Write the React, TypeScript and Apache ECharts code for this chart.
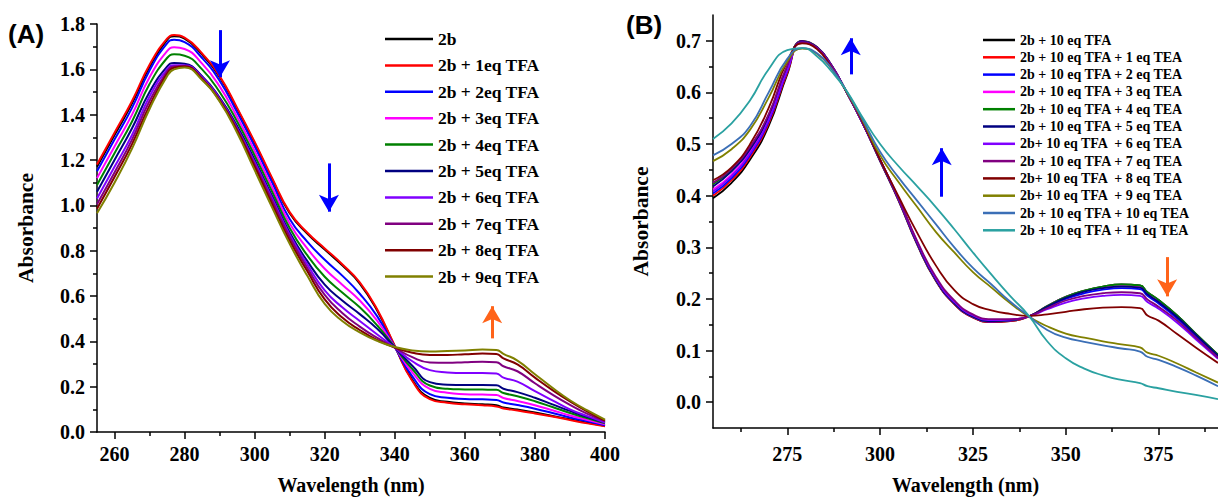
import { useEffect, useRef } from "react";
import * as echarts from "echarts";

// ---------- Panel A data ----------
const wavelengthA = [255, 260, 265, 270, 275, 277, 280, 285, 290, 295, 300, 305, 310, 315, 320, 325, 330, 335, 340, 345, 350, 355, 360, 365, 369, 371, 375, 380, 385, 390, 395, 400];
const namesA = ["2b", "2b + 1eq TFA", "2b + 2eq TFA", "2b + 3eq TFA", "2b + 4eq TFA", "2b + 5eq TFA", "2b + 6eq TFA", "2b + 7eq TFA", "2b + 8eq TFA", "2b + 9eq TFA"];
const colorsA = ["#000000", "#ff0000", "#0000ff", "#ff00ff", "#008000", "#000080", "#8000ff", "#800080", "#800000", "#808000"];
const a2b = [1.17, 1.31, 1.45, 1.61, 1.73, 1.746, 1.735, 1.665, 1.565, 1.425, 1.275, 1.115, 0.965, 0.875, 0.805, 0.735, 0.655, 0.535, 0.378, 0.23, 0.15, 0.133, 0.126, 0.122, 0.118, 0.108, 0.099, 0.086, 0.071, 0.056, 0.041, 0.027];
const a1eq = [1.18, 1.32, 1.46, 1.62, 1.735, 1.751, 1.74, 1.67, 1.57, 1.43, 1.28, 1.12, 0.97, 0.88, 0.81, 0.74, 0.66, 0.54, 0.38, 0.225, 0.145, 0.129, 0.122, 0.118, 0.113, 0.104, 0.095, 0.082, 0.068, 0.053, 0.038, 0.025];
const a2eq = [1.15, 1.29, 1.43, 1.595, 1.715, 1.73, 1.72, 1.65, 1.55, 1.41, 1.26, 1.1, 0.94, 0.84, 0.76, 0.69, 0.61, 0.51, 0.375, 0.245, 0.167, 0.151, 0.146, 0.144, 0.141, 0.13, 0.119, 0.103, 0.084, 0.064, 0.047, 0.03];
const a3eq = [1.12, 1.26, 1.4, 1.565, 1.68, 1.697, 1.69, 1.625, 1.525, 1.39, 1.24, 1.08, 0.92, 0.81, 0.72, 0.65, 0.58, 0.49, 0.375, 0.263, 0.19, 0.173, 0.167, 0.165, 0.163, 0.15, 0.137, 0.118, 0.096, 0.073, 0.053, 0.034];
const a4eq = [1.09, 1.23, 1.37, 1.535, 1.65, 1.666, 1.66, 1.6, 1.5, 1.37, 1.22, 1.06, 0.9, 0.78, 0.685, 0.615, 0.55, 0.47, 0.374, 0.278, 0.205, 0.191, 0.188, 0.187, 0.186, 0.172, 0.158, 0.136, 0.11, 0.084, 0.06, 0.038];
const a5eq = [1.06, 1.2, 1.34, 1.5, 1.612, 1.628, 1.625, 1.57, 1.475, 1.35, 1.2, 1.04, 0.88, 0.755, 0.65, 0.58, 0.52, 0.455, 0.373, 0.292, 0.22, 0.209, 0.207, 0.207, 0.206, 0.191, 0.176, 0.151, 0.122, 0.093, 0.066, 0.042];
const a6eq = [1.03, 1.17, 1.31, 1.48, 1.6, 1.618, 1.618, 1.565, 1.47, 1.34, 1.19, 1.03, 0.87, 0.74, 0.625, 0.55, 0.49, 0.43, 0.372, 0.312, 0.273, 0.263, 0.26, 0.26, 0.258, 0.24, 0.222, 0.18, 0.14, 0.1, 0.07, 0.042];
const a7eq = [1.005, 1.145, 1.29, 1.46, 1.59, 1.613, 1.615, 1.56, 1.465, 1.335, 1.18, 1.02, 0.86, 0.725, 0.605, 0.525, 0.465, 0.415, 0.372, 0.33, 0.307, 0.305, 0.308, 0.31, 0.308, 0.29, 0.268, 0.215, 0.165, 0.12, 0.08, 0.048];
const a8eq = [0.985, 1.125, 1.27, 1.44, 1.58, 1.607, 1.612, 1.557, 1.462, 1.33, 1.17, 1.005, 0.845, 0.71, 0.585, 0.505, 0.45, 0.405, 0.373, 0.35, 0.34, 0.34, 0.343, 0.346, 0.344, 0.325, 0.298, 0.24, 0.185, 0.135, 0.09, 0.05];
const a9eq = [0.965, 1.1, 1.25, 1.425, 1.57, 1.6, 1.608, 1.553, 1.458, 1.32, 1.155, 0.99, 0.83, 0.69, 0.565, 0.49, 0.44, 0.402, 0.375, 0.36, 0.355, 0.357, 0.36, 0.364, 0.362, 0.345, 0.315, 0.255, 0.195, 0.14, 0.095, 0.055];
const valuesA = [a2b, a1eq, a2eq, a3eq, a4eq, a5eq, a6eq, a7eq, a8eq, a9eq];
const xMajorA = [260, 280, 300, 320, 340, 360, 380, 400];
const xMinorA = [270, 290, 310, 330, 350, 370, 390];

// ---------- Panel B data ----------
const wavelengthB = [255, 260, 265, 270, 275, 279, 283, 287, 291, 295, 300, 305, 310, 315, 320, 325, 330, 335, 340, 345, 350, 355, 360, 365, 370, 372, 375, 380, 385, 391];
const namesB = [
  "2b + 10 eq TFA",
  "2b + 10 eq TFA + 1 eq TEA",
  "2b + 10 eq TFA + 2 eq TEA",
  "2b + 10 eq TFA + 3 eq TEA",
  "2b + 10 eq TFA + 4 eq TEA",
  "2b + 10 eq TFA + 5 eq TEA",
  "2b+ 10 eq TFA  + 6 eq TEA",
  "2b + 10 eq TFA + 7 eq TEA",
  "2b+ 10 eq TFA  + 8 eq TEA",
  "2b+ 10 eq TFA  + 9 eq TEA",
  "2b + 10 eq TFA + 10 eq TEA",
  "2b + 10 eq TFA + 11 eq TEA",
];
const colorsB = ["#000000", "#ff0000", "#0000ff", "#ff00ff", "#008000", "#000080", "#8000ff", "#800080", "#800000", "#808000", "#3b6fb6", "#2aa1a1"];
const b0 = [0.395, 0.425, 0.47, 0.535, 0.635, 0.7, 0.688, 0.652, 0.6, 0.545, 0.467, 0.39, 0.305, 0.235, 0.19, 0.164, 0.155, 0.157, 0.166, 0.186, 0.204, 0.216, 0.224, 0.228, 0.226, 0.213, 0.198, 0.168, 0.133, 0.092];
const b1 = [0.4, 0.43, 0.475, 0.54, 0.638, 0.699, 0.687, 0.651, 0.6, 0.545, 0.468, 0.391, 0.306, 0.236, 0.19, 0.164, 0.155, 0.157, 0.166, 0.185, 0.203, 0.215, 0.222, 0.225, 0.223, 0.21, 0.195, 0.165, 0.13, 0.09];
const b2 = [0.404, 0.434, 0.479, 0.544, 0.641, 0.699, 0.687, 0.651, 0.6, 0.545, 0.468, 0.392, 0.307, 0.237, 0.191, 0.165, 0.156, 0.158, 0.166, 0.184, 0.2, 0.211, 0.218, 0.221, 0.219, 0.206, 0.191, 0.162, 0.128, 0.088];
const b3 = [0.412, 0.441, 0.485, 0.549, 0.645, 0.698, 0.687, 0.651, 0.6, 0.545, 0.469, 0.393, 0.308, 0.238, 0.192, 0.166, 0.157, 0.159, 0.166, 0.186, 0.204, 0.215, 0.223, 0.227, 0.225, 0.212, 0.197, 0.167, 0.132, 0.091];
const b4 = [0.422, 0.45, 0.493, 0.556, 0.65, 0.698, 0.687, 0.65, 0.6, 0.545, 0.469, 0.393, 0.308, 0.238, 0.192, 0.166, 0.157, 0.159, 0.166, 0.186, 0.204, 0.216, 0.224, 0.228, 0.226, 0.213, 0.198, 0.168, 0.133, 0.092];
const b5 = [0.418, 0.447, 0.49, 0.553, 0.648, 0.698, 0.687, 0.651, 0.6, 0.545, 0.469, 0.393, 0.308, 0.238, 0.192, 0.166, 0.157, 0.159, 0.166, 0.185, 0.202, 0.214, 0.221, 0.224, 0.222, 0.209, 0.194, 0.165, 0.131, 0.09];
const b6 = [0.408, 0.438, 0.482, 0.547, 0.643, 0.697, 0.686, 0.65, 0.6, 0.545, 0.47, 0.394, 0.31, 0.24, 0.194, 0.168, 0.159, 0.16, 0.166, 0.18, 0.193, 0.201, 0.206, 0.208, 0.206, 0.194, 0.181, 0.154, 0.122, 0.084];
const b7 = [0.425, 0.452, 0.495, 0.558, 0.652, 0.697, 0.686, 0.65, 0.6, 0.545, 0.47, 0.395, 0.312, 0.243, 0.197, 0.17, 0.161, 0.161, 0.166, 0.182, 0.197, 0.206, 0.211, 0.213, 0.211, 0.199, 0.185, 0.158, 0.125, 0.086];
const b8 = [0.43, 0.455, 0.5, 0.57, 0.66, 0.695, 0.684, 0.647, 0.601, 0.548, 0.47, 0.398, 0.328, 0.265, 0.217, 0.19, 0.178, 0.171, 0.167, 0.17, 0.175, 0.18, 0.183, 0.184, 0.182, 0.168, 0.158, 0.132, 0.106, 0.076];
const b9 = [0.467, 0.49, 0.528, 0.59, 0.66, 0.685, 0.675, 0.645, 0.601, 0.55, 0.478, 0.426, 0.378, 0.33, 0.29, 0.252, 0.222, 0.192, 0.166, 0.147, 0.133, 0.125, 0.118, 0.112, 0.106, 0.096, 0.09, 0.075, 0.058, 0.038];
const b10 = [0.478, 0.5, 0.535, 0.6, 0.665, 0.686, 0.676, 0.646, 0.602, 0.552, 0.485, 0.435, 0.39, 0.345, 0.3, 0.26, 0.228, 0.195, 0.167, 0.14, 0.125, 0.117, 0.11, 0.104, 0.098, 0.088, 0.082, 0.068, 0.052, 0.031];
const b11 = [0.51, 0.54, 0.585, 0.645, 0.682, 0.686, 0.67, 0.64, 0.603, 0.555, 0.5, 0.457, 0.418, 0.378, 0.335, 0.29, 0.247, 0.206, 0.168, 0.118, 0.085, 0.065, 0.052, 0.043, 0.037, 0.031, 0.027, 0.02, 0.014, 0.006];
const valuesB = [b0, b1, b2, b3, b4, b5, b6, b7, b8, b9, b10, b11];
const xMajorB = [275, 300, 325, 350, 375];
const xMinorB = [262.5, 287.5, 312.5, 337.5, 362.5, 387.5];
const yMajorB = [0, 0.1, 0.2, 0.3, 0.4, 0.5, 0.6, 0.7];
const yMinorB = [0.05, 0.15, 0.25, 0.35, 0.45, 0.55, 0.65];

// ---------- annotation arrows (data units: shaft start -> arrow tip) ----------
const arrowsA = [
  { x: 290.1, from: 1.773, to: 1.565, color: "#0000ff" },
  { x: 321.2, from: 1.185, to: 0.972, color: "#0000ff" },
  { x: 367.8, from: 0.413, to: 0.555, color: "#ff6319" },
];
const arrowsB = [
  { x: 292.1, from: 0.635, to: 0.705, color: "#0000ff" },
  { x: 316.6, from: 0.398, to: 0.492, color: "#0000ff" },
  { x: 377.3, from: 0.281, to: 0.205, color: "#ff6319" },
];

const SERIF = "'Liberation Serif', 'Times New Roman', serif";
const SANS = "'Liberation Sans', Arial, sans-serif";

export default function App() {
  const ref = useRef<HTMLDivElement>(null);

  useEffect(() => {
    if (!ref.current) return;
    const chart = echarts.init(ref.current, undefined, { renderer: "svg" });

    const lineStyle = { color: "#000", width: 1.5 };
    const labelStyle = { fontFamily: SERIF, fontWeight: "bold" as const, fontSize: 20, color: "#000" };
    const xNameStyle = { fontFamily: SERIF, fontWeight: "bold" as const, fontSize: 20, color: "#000" };
    const yNameStyle = { fontFamily: SERIF, fontWeight: "bold" as const, fontSize: 21.5, color: "#000" };

    const markArrows = (arr: typeof arrowsA) => ({
      silent: true,
      symbol: ["none", "arrow"],
      symbolSize: [15, 17],
      label: { show: false },
      emphasis: { disabled: true },
      data: arr.map((a) => [
        { coord: [a.x, a.from], lineStyle: { color: a.color, width: 3, type: "solid" }, itemStyle: { color: a.color } },
        { coord: [a.x, a.to] },
      ]),
    });

    const series: any[] = [];
    valuesA.forEach((vals, i) => {
      series.push({
        type: "line",
        name: namesA[i],
        xAxisIndex: 0,
        yAxisIndex: 0,
        data: wavelengthA.map((w, j) => [w, vals[j]]),
        showSymbol: false,
        symbol: "none",
        smooth: 0.5,
        color: colorsA[i],
        lineStyle: { width: 2, color: colorsA[i] },
        emphasis: { disabled: true },
        markLine: i === 0 ? markArrows(arrowsA) : undefined,
      });
    });
    valuesB.forEach((vals, i) => {
      series.push({
        type: "line",
        name: namesB[i],
        xAxisIndex: 2,
        yAxisIndex: 1,
        data: wavelengthB.map((w, j) => [w, vals[j]]),
        showSymbol: false,
        symbol: "none",
        smooth: 0.5,
        color: colorsB[i],
        lineStyle: { width: 1.8, color: colorsB[i] },
        emphasis: { disabled: true },
        markLine: i === 0 ? markArrows(arrowsB) : undefined,
      });
    });

    const option: any = {
      animation: false,
      backgroundColor: "#ffffff",
      grid: [
        { left: 97, top: 24, width: 508, height: 409 },
        { left: 713, top: 15, width: 505, height: 413 },
      ],
      xAxis: [
        {
          gridIndex: 0, type: "value", position: "bottom", min: 255, max: 400,
          axisLine: { show: true, onZero: false, lineStyle },
          axisTick: { show: true, customValues: xMajorA, length: 7, lineStyle },
          axisLabel: { customValues: xMajorA, margin: 12, ...labelStyle },
          splitLine: { show: false },
          name: "Wavelength (nm)", nameLocation: "middle", nameGap: 43, nameTextStyle: xNameStyle,
        },
        {
          gridIndex: 0, type: "value", position: "bottom", min: 255, max: 400,
          axisLine: { show: false, onZero: false },
          axisTick: { show: true, customValues: xMinorA, length: 4, lineStyle },
          axisLabel: { show: false },
          splitLine: { show: false },
        },
        {
          gridIndex: 1, type: "value", position: "bottom", min: 255, max: 391,
          axisLine: { show: true, onZero: false, lineStyle },
          axisTick: { show: true, customValues: xMajorB, length: 7, lineStyle },
          axisLabel: { customValues: xMajorB, margin: 16, ...labelStyle },
          splitLine: { show: false },
          name: "Wavelength (nm)", nameLocation: "middle", nameGap: 47, nameTextStyle: xNameStyle,
        },
        {
          gridIndex: 1, type: "value", position: "bottom", min: 255, max: 391,
          axisLine: { show: false, onZero: false },
          axisTick: { show: true, customValues: xMinorB, length: 4, lineStyle },
          axisLabel: { show: false },
          splitLine: { show: false },
        },
      ],
      yAxis: [
        {
          gridIndex: 0, type: "value", position: "left", min: 0, max: 1.8, interval: 0.2,
          axisLine: { show: true, onZero: false, lineStyle },
          axisTick: { show: true, length: 7, lineStyle },
          minorTick: { show: true, splitNumber: 2, length: 4, lineStyle },
          axisLabel: { margin: 12, formatter: (v: number) => v.toFixed(1), ...labelStyle },
          splitLine: { show: false },
          name: "Absorbance", nameLocation: "middle", nameRotate: 90, nameGap: 60, nameTextStyle: yNameStyle,
        },
        {
          gridIndex: 1, type: "value", position: "left", min: -0.05, max: 0.75,
          axisLine: { show: true, onZero: false, lineStyle },
          axisTick: { show: true, customValues: yMajorB, length: 7, lineStyle },
          axisLabel: { customValues: yMajorB, margin: 12, formatter: (v: number) => v.toFixed(1), ...labelStyle },
          splitLine: { show: false },
          name: "Absorbance", nameLocation: "middle", nameRotate: 90, nameGap: 61, nameTextStyle: yNameStyle,
        },
        {
          gridIndex: 1, type: "value", position: "left", min: -0.05, max: 0.75,
          axisLine: { show: false, onZero: false },
          axisTick: { show: true, customValues: yMinorB, length: 4, lineStyle },
          axisLabel: { show: false },
          splitLine: { show: false },
        },
      ],
      legend: [
        {
          data: namesA, orient: "vertical", left: 385, top: 30, padding: 0,
          icon: "rect", itemWidth: 48, itemHeight: 2.5, itemGap: 8.4,
          textStyle: { fontFamily: SERIF, fontWeight: "bold", fontSize: 17.5, lineHeight: 17.5, color: "#000" },
          selectedMode: false,
        },
        {
          data: namesB, orient: "vertical", left: 983, top: 33, padding: 0,
          icon: "rect", itemWidth: 32, itemHeight: 2.5, itemGap: 3.3,
          textStyle: { fontFamily: SERIF, fontWeight: "bold", fontSize: 14, lineHeight: 14, color: "#000" },
          selectedMode: false,
        },
      ],
      graphic: [
        { type: "text", left: 8, top: 21, style: { text: "(A)", font: `bold 26px ${SANS}`, fill: "#000" } },
        { type: "text", left: 626, top: 12, style: { text: "(B)", font: `bold 26px ${SANS}`, fill: "#000" } },
      ],
      series,
    };

    chart.setOption(option);
    return () => chart.dispose();
  }, []);

  return <div ref={ref} style={{ position: "absolute", left: 0, top: 0, width: 1218, height: 500 }} />;
}
